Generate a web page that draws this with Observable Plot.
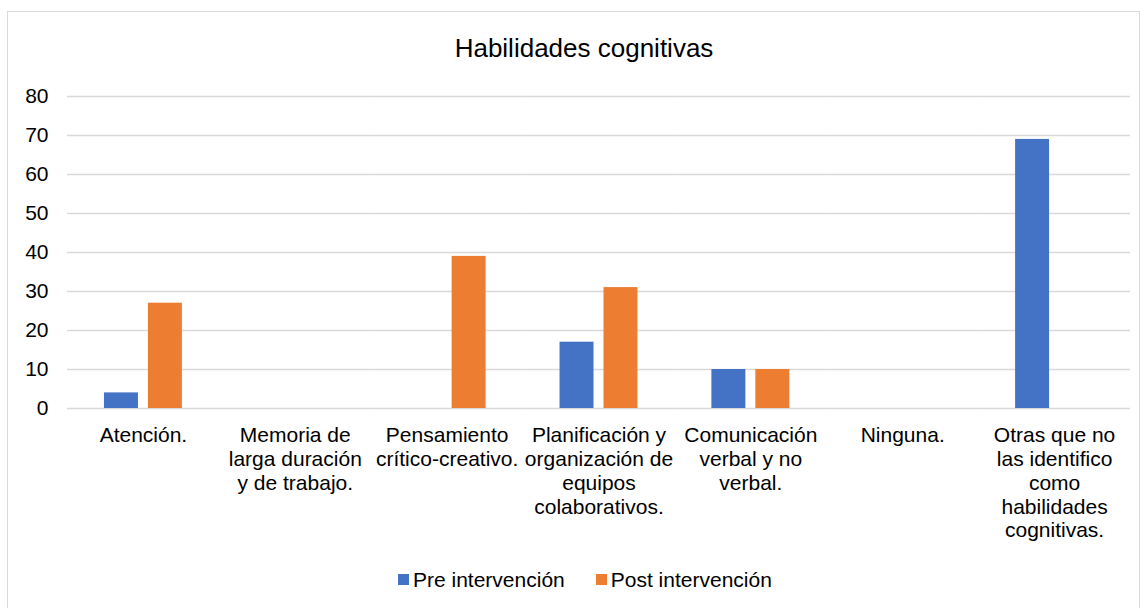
<!DOCTYPE html>
<html>
<head>
<meta charset="utf-8">
<script src="https://cdn.jsdelivr.net/npm/d3@7"></script>
<script src="https://cdn.jsdelivr.net/npm/@observablehq/plot@0.6"></script>
<style>
  html, body { margin: 0; padding: 0; background: #fff; }
  body { width: 1145px; height: 608px; overflow: hidden; position: relative; font-family: "Liberation Sans", Arial, sans-serif; color: #000; }
  #frame { position: absolute; left: 7px; top: 11px; width: 1133px; height: 620px; border: 1.5px solid #d9d9d9; box-sizing: border-box; }
  #title { position: absolute; left: 584px; top: 35px; transform: translateX(-50%); font-size: 26px; line-height: 26px; white-space: nowrap; color: #000; }
  #chart { position: absolute; left: 0; top: 75px; }
  #legend { position: absolute; left: 398px; top: 569px; font-size: 21px; line-height: 21px; white-space: nowrap; display: flex; align-items: center; }
  .item { display: flex; align-items: center; }
  .sw { width: 11px; height: 11px; display: inline-block; margin-right: 4px; }
</style>
</head>
<body>
<div id="frame"></div>
<div id="title">Habilidades cognitivas</div>
<div id="chart"></div>
<div id="legend"></div>
<script>
const categories = [
  "Atención.",
  "Memoria de\nlarga duración\ny de trabajo.",
  "Pensamiento\ncrítico-creativo.",
  "Planificación y\norganización de\nequipos\ncolaborativos.",
  "Comunicación\nverbal y no\nverbal.",
  "Ninguna.",
  "Otras que no\nlas identifico\ncomo\nhabilidades\ncognitivas."
];
const seriesNames = ["Pre intervención", "Post intervención"];
const preValues  = [4, 0, 0, 17, 10, 0, 69];
const postValues = [27, 0, 39, 31, 10, 0, 0];
const colors = ["#4472C4", "#ED7D31"];
const yTicks = [0, 10, 20, 30, 40, 50, 60, 70, 80];

const rows = [];
categories.forEach((c, i) => {
  rows.push({category: c, series: seriesNames[0], value: preValues[i]});
  rows.push({category: c, series: seriesNames[1], value: postValues[i]});
});

const chart = Plot.plot({
  width: 1145,
  height: 480,
  marginLeft: 67,
  marginRight: 15,
  marginTop: 21,
  marginBottom: 147,
  style: {fontFamily: "'Liberation Sans', Arial, sans-serif", fontSize: "21px", color: "#000", background: "transparent"},
  fx: {domain: categories, paddingInner: 0, paddingOuter: 0, round: false, label: null},
  x: {domain: seriesNames, paddingInner: 0.227, paddingOuter: 0.841, round: false, axis: null},
  y: {domain: [0, 80], label: null},
  color: {domain: seriesNames, range: colors},
  marks: [
    Plot.gridY(yTicks, {stroke: "#d9d9d9", strokeOpacity: 1, strokeWidth: 1.5}),
    Plot.axisY(yTicks, {tickSize: 0, tickPadding: 19, label: null, fontSize: 21, fill: "#000"}),
    Plot.axisFx({anchor: "bottom", tickSize: 0, tickPadding: 17, label: null, fontSize: 21, lineHeight: 1.13, fill: "#000", lineAnchor: "top"}),
    Plot.barY(rows, {fx: "category", x: "series", y: "value", fill: "series"})
  ]
});
document.getElementById("chart").appendChild(chart);

const legend = document.getElementById("legend");
seriesNames.forEach((s, i) => {
  const it = document.createElement("span");
  it.className = "item";
  if (i > 0) it.style.marginLeft = "31px";
  const sw = document.createElement("span");
  sw.className = "sw";
  sw.style.background = colors[i];
  it.appendChild(sw);
  it.appendChild(document.createTextNode(s));
  legend.appendChild(it);
});
</script>
</body>
</html>
